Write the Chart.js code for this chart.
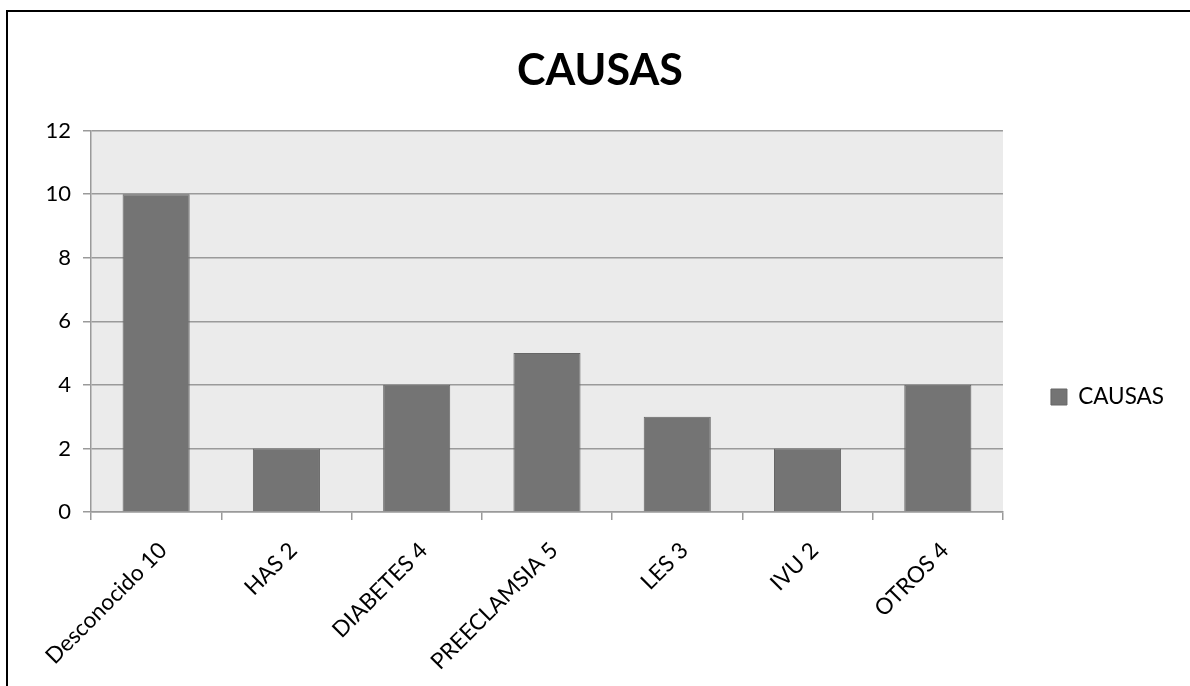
<!DOCTYPE html>
<html>
<head>
<meta charset="utf-8">
<script src="https://cdn.jsdelivr.net/npm/chart.js@4/dist/chart.umd.min.js"></script>
<style>
  html, body { margin: 0; padding: 0; background: #fff; overflow: hidden; }
  .rule { position: absolute; background: #000; }
  #ruleTop { left: 6px; top: 10px; width: 1184px; height: 2px; }
  #ruleLeft { left: 6px; top: 10px; width: 2px; height: 676px; }
  #wrap { position: absolute; left: 0; top: 0; width: 1190px; height: 686px; }
</style>
</head>
<body>
<div class="rule" id="ruleTop"></div>
<div class="rule" id="ruleLeft"></div>
<div id="wrap"><canvas id="mycanvas"></canvas></div>
<script>
// causes and counts
var causas = ["Desconocido", "HAS", "DIABETES", "PREECLAMSIA", "LES", "IVU", "OTROS"];
var casos = [10, 2, 4, 5, 3, 2, 4];
var yTicks = [0, 2, 4, 6, 8, 10, 12];

var etiquetas = [];
for (var i in causas) {
	etiquetas.push(causas[i] + " " + casos[i]);
}

var fontName = "Lato, 'Open Sans', sans-serif";

// gray panel behind the bars
var plotBg = {
	id: 'plotBg',
	beforeDraw: function(chart) {
		var a = chart.chartArea;
		var ctx = chart.ctx;
		ctx.save();
		ctx.fillStyle = '#ebebeb';
		ctx.fillRect(a.left, a.top, a.right - a.left, a.bottom - a.top);
		ctx.restore();
	}
};

var chartdata = {
	labels: etiquetas,
	datasets: [{
		label: 'CAUSAS',
		backgroundColor: '#747474',
		borderColor: '#666666',
		borderWidth: 1,
		data: casos,
		barPercentage: 0.515,
		categoryPercentage: 1
	}]
};

var ctx = document.getElementById("mycanvas");

var barGraph = new Chart(ctx, {
	type: 'bar',
	data: chartdata,
	plugins: [plotBg],
	options: {
		responsive: true,
		maintainAspectRatio: false,
		animation: false,
		layout: { padding: { left: 26, right: 16, top: 0, bottom: 0 } },
		plugins: {
			title: {
				display: true,
				text: 'CAUSAS',
				color: '#000',
				font: { family: fontName, size: 43, weight: 'bold' },
				padding: { top: 45, bottom: 34 }
			},
			legend: {
				position: 'right',
				title: { display: true, text: '', font: { size: 10 }, padding: { top: 96, bottom: 0 } },
				labels: {
					color: '#000',
					font: { family: fontName, size: 22.5 },
					boxWidth: 16,
					boxHeight: 16,
					padding: 48
				}
			},
			tooltip: { enabled: false }
		},
		scales: {
			y: {
				min: 0,
				max: 12,
				afterFit: function(s) { s.width = 65; },
				afterBuildTicks: function(s) {
					s.ticks = yTicks.map(function(v) { return { value: v }; });
				},
				ticks: {
					color: '#000',
					font: { family: fontName, size: 22 },
					padding: 12
				},
				grid: { color: '#9a9a9a', lineWidth: 1.5, tickLength: 8 },
				border: { color: '#9a9a9a', width: 1.5 }
			},
			x: {
				afterFit: function(s) { s.height = 174; },
				ticks: {
					color: '#000',
					font: { family: fontName, size: 22.5 },
					maxRotation: 45,
					minRotation: 45,
					padding: 17,
					labelOffset: 7
				},
				grid: { drawOnChartArea: false, offset: true, color: '#9a9a9a', lineWidth: 1.5, tickLength: 8 },
				border: { color: '#9a9a9a', width: 1.5 }
			}
		}
	}
});
</script>
</body>
</html>
